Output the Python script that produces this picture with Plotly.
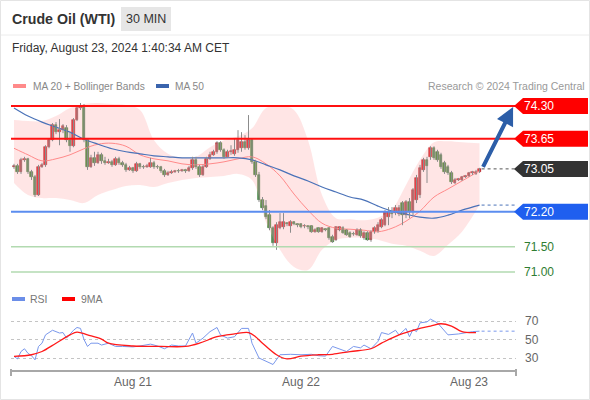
import plotly.graph_objects as go
import pandas as pd

# ---------------- DATA ----------------
start_time = "2024-08-20 07:00"
opens = [73.09, 73.11, 72.99, 73.23, 73.25, 72.99, 72.89, 72.53, 73.09, 73.13,
         73.48, 73.62, 73.92, 73.78, 73.82, 73.86, 73.62, 73.50, 74.02, 74.26,
         74.28, 73.62, 73.09, 73.27, 73.17, 73.33, 73.21, 73.17, 73.19, 73.13,
         73.25, 73.17, 73.13, 73.03, 73.07, 73.01, 73.15, 73.09, 73.08, 73.09,
         73.17, 73.09, 73.09, 73.01, 72.93, 72.97, 72.99, 73.01, 73.00, 73.03,
         73.01, 73.07, 73.23, 73.09, 72.93, 73.09, 73.25, 73.33, 73.39, 73.56,
         73.43, 73.29, 73.39, 73.35, 73.43, 73.47, 73.58, 73.46, 73.62, 73.19,
         72.93, 72.43, 72.31, 72.13, 71.87, 71.58, 71.87, 71.89, 71.97, 71.91,
         71.99, 71.95, 71.95, 71.91, 71.92, 71.91, 71.80, 71.87, 71.80, 71.85,
         71.87, 71.70, 71.64, 71.83, 71.87, 71.83, 71.78, 71.76, 71.74, 71.83,
         71.68, 71.78, 71.64, 71.80, 71.81, 71.89, 71.93, 72.09, 72.17, 72.17,
         72.15, 72.37, 72.13, 72.39, 72.19, 72.43, 72.53, 73.03, 73.23, 73.29,
         73.46, 73.39, 73.33, 73.17, 73.09, 72.97, 72.77, 72.83, 72.83, 72.89,
         72.91, 72.97, 72.95, 72.99]
highs = [73.15, 73.15, 73.27, 73.29, 73.27, 73.03, 72.93, 73.13, 73.17, 73.52,
         73.66, 73.96, 73.98, 74.04, 73.94, 73.92, 73.78, 74.06, 74.30, 74.36,
         74.34, 73.66, 73.33, 73.39, 73.39, 73.37, 73.29, 73.25, 73.23, 73.29,
         73.29, 73.21, 73.17, 73.11, 73.09, 73.19, 73.17, 73.13, 73.15, 73.27,
         73.21, 73.13, 73.11, 73.05, 73.01, 73.03, 73.03, 73.05, 73.05, 73.05,
         73.11, 73.29, 73.29, 73.13, 73.13, 73.29, 73.39, 73.43, 73.60, 73.60,
         73.46, 73.43, 73.52, 73.66, 73.82, 73.78, 73.72, 74.12, 73.66, 73.23,
         72.99, 72.49, 72.43, 72.23, 71.91, 71.99, 72.17, 72.17, 71.99, 72.03,
         72.01, 71.97, 71.97, 71.95, 71.93, 71.93, 71.87, 71.89, 71.89, 71.87,
         71.89, 71.74, 71.91, 71.91, 71.91, 71.85, 71.81, 71.80, 71.87, 71.87,
         71.81, 71.81, 71.83, 71.91, 71.99, 72.07, 72.23, 72.29, 72.29, 72.33,
         72.33, 72.41, 72.43, 72.47, 72.67, 72.93, 73.13, 73.27, 73.29, 73.50,
         73.50, 73.43, 73.37, 73.21, 73.13, 73.01, 72.87, 72.87, 72.91, 72.93,
         72.99, 73.01, 73.03, 73.07]
lows = [73.05, 72.95, 72.95, 73.19, 72.95, 72.83, 72.49, 72.51, 73.07, 73.09,
        73.46, 73.60, 73.74, 73.52, 73.76, 73.58, 73.39, 73.48, 74.00, 74.22,
        73.58, 73.03, 73.07, 73.11, 73.15, 73.15, 73.13, 73.15, 73.09, 73.11,
        73.13, 73.09, 72.99, 73.01, 72.97, 72.99, 73.05, 73.05, 73.07, 73.07,
        73.05, 73.05, 72.97, 72.89, 72.91, 72.95, 72.97, 72.97, 72.99, 72.97,
        72.99, 73.03, 73.05, 72.89, 72.91, 73.07, 73.23, 73.31, 73.35, 73.39,
        73.25, 73.27, 73.33, 73.31, 73.37, 73.39, 73.43, 73.43, 73.15, 72.89,
        72.39, 72.23, 72.05, 71.83, 71.52, 71.44, 71.85, 71.85, 71.91, 71.78,
        71.93, 71.89, 71.87, 71.87, 71.85, 71.78, 71.78, 71.78, 71.78, 71.81,
        71.64, 71.58, 71.62, 71.81, 71.76, 71.72, 71.68, 71.72, 71.72, 71.68,
        71.64, 71.62, 71.60, 71.76, 71.78, 71.87, 71.91, 71.93, 72.07, 72.13,
        72.11, 71.93, 72.07, 72.07, 72.13, 72.37, 72.47, 72.99, 72.77, 73.23,
        73.23, 73.19, 73.05, 72.95, 72.93, 72.75, 72.75, 72.81, 72.81, 72.87,
        72.89, 72.93, 72.93, 72.97]
closes = [73.11, 72.99, 73.23, 73.25, 72.99, 72.89, 72.53, 73.09, 73.13, 73.48,
          73.62, 73.92, 73.78, 73.82, 73.90, 73.62, 73.50, 74.02, 74.26, 74.30,
          73.62, 73.09, 73.27, 73.17, 73.33, 73.21, 73.17, 73.19, 73.13, 73.25,
          73.17, 73.13, 73.03, 73.07, 73.01, 73.15, 73.09, 73.08, 73.11, 73.17,
          73.09, 73.08, 73.01, 72.93, 72.97, 72.99, 73.01, 73.00, 73.03, 73.01,
          73.07, 73.23, 73.09, 72.93, 73.09, 73.25, 73.33, 73.39, 73.56, 73.43,
          73.29, 73.39, 73.40, 73.43, 73.62, 73.58, 73.46, 73.62, 73.19, 72.93,
          72.43, 72.27, 72.09, 71.87, 71.58, 71.93, 71.99, 71.99, 71.95, 71.99,
          71.95, 71.93, 71.89, 71.92, 71.89, 71.80, 71.83, 71.80, 71.87, 71.83,
          71.68, 71.60, 71.89, 71.89, 71.78, 71.74, 71.70, 71.75, 71.83, 71.72,
          71.78, 71.64, 71.80, 71.87, 71.93, 72.03, 72.19, 72.19, 72.15, 72.27,
          72.27, 72.13, 72.39, 72.19, 72.63, 72.87, 73.07, 73.23, 73.11, 73.46,
          73.27, 73.23, 73.09, 72.99, 72.97, 72.79, 72.83, 72.85, 72.89, 72.91,
          72.97, 72.98, 72.99, 73.05]

band_idx = [0, 4, 8, 12, 16, 20, 24, 28, 32, 36, 40, 44, 48, 52, 56, 60, 64,
            68, 72, 76, 80, 84, 88, 92, 96, 100, 104, 108, 112, 116, 120, 124,
            128, 133]
ma20 = [73.46, 73.33, 73.21, 73.25, 73.33, 73.45, 73.54, 73.56, 73.50, 73.33,
        73.25, 73.21, 73.15, 73.13, 73.15, 73.19, 73.25, 73.29, 73.15, 72.91,
        72.55, 72.23, 71.97, 71.87, 71.85, 71.83, 71.80, 71.87, 72.01, 72.21,
        72.49, 72.65, 72.81, 73.01]
bb_upper = [74.02, 74.00, 74.00, 74.10, 74.26, 74.34, 74.36, 74.34, 74.32, 74.22,
            73.62, 73.35, 73.27, 73.29, 73.48, 73.62, 73.70, 73.86, 74.26, 74.32,
            74.22, 73.62, 72.53, 72.07, 72.05, 72.03, 72.08, 72.25, 72.73, 73.23,
            73.58, 73.60, 73.58, 73.56]
bb_lower = [72.77, 72.53, 72.47, 72.47, 72.43, 72.37, 72.53, 72.63, 72.71, 72.73,
            72.69, 72.77, 72.83, 72.87, 72.89, 72.91, 72.95, 72.83, 71.99, 71.44,
            71.10, 71.04, 71.44, 71.64, 71.68, 71.68, 71.64, 71.56, 71.52, 71.42,
            71.32, 71.54, 71.80, 72.33]
ma50 = [74.26, 74.10, 73.98, 73.88, 73.78, 73.64, 73.54, 73.45, 73.39, 73.35,
        73.31, 73.29, 73.27, 73.27, 73.27, 73.27, 73.27, 73.23, 73.13, 73.03,
        72.91, 72.81, 72.69, 72.59, 72.49, 72.43, 72.31, 72.21, 72.15, 72.09,
        72.07, 72.13, 72.23, 72.33]

rsi_idx = [0, 1, 2, 3, 4, 5, 6, 7, 8, 9, 11, 13, 14, 15, 17, 18, 19, 20, 21, 22,
           24, 25, 27, 29, 31, 34, 36, 39, 41, 43, 45, 47, 49, 51, 52, 54, 56, 58,
           59, 61, 63, 65, 67, 68, 70, 72, 74, 76, 79, 82, 85, 87, 89, 91, 93, 95,
           97, 99, 100, 102, 104, 105, 107, 109, 110, 112, 113, 114, 115, 116, 118,
           119, 121, 122, 124, 127, 129, 131, 133]
rsi_vals = [31.8, 29, 37, 40, 35, 32.5, 28, 42.5, 46, 55, 60, 57, 57.5, 51.5, 60,
            63, 62, 50, 42.5, 46, 46, 44, 46, 42.5, 42.5, 42, 43, 45, 43, 40, 44,
            43, 43, 57, 46, 51.5, 58.5, 63, 55, 51.5, 53, 62, 62, 46, 30, 26.5, 23,
            33.5, 34, 33.5, 34, 32.5, 32, 42.5, 40, 37, 42.5, 41, 44, 40, 48, 57.5,
            55.5, 60, 55, 62, 53, 61, 58.5, 68, 69, 72, 68, 64, 55, 56, 57.5, 58.5, 59]
ma9_idx = [0, 5, 8, 12, 16, 18, 21, 25, 27, 34, 42, 49, 53, 58, 63, 67, 69, 71,
           75, 78, 82, 87, 91, 96, 102, 105, 110, 115, 119, 122, 125, 128, 132]
ma9_vals = [31.8, 33.5, 37, 46, 55, 58, 55, 50.5, 46, 43, 42.5, 42.5, 46, 53, 56,
            57.5, 53, 46, 33.5, 29, 32, 33.5, 34, 37, 40, 46, 55, 61, 64.5, 67,
            64.5, 58.5, 57.5]

levels_red = [74.30, 73.65]
level_last = 73.05
level_blue = 72.20
levels_green = [71.50, 71.00]
rsi_levels = [30, 50, 70]
tick_dates = ["2024-08-21", "2024-08-22", "2024-08-23"]
tick_labels = ["Aug 21", "Aug 22", "Aug 23"]

# ---------------- HELPERS ----------------
t0 = pd.Timestamp(start_time)
step = pd.Timedelta(minutes=30)
def t(i):
    return t0 + step * i

times = [t(i) for i in range(len(closes))]
band_t = [t(i) for i in band_idx]
rsi_t = [t(i) for i in rsi_idx]
ma9_t = [t(i) for i in ma9_idx]

W, H = 590, 400
L, R, T, B = 11, 516, 95, 370
def px(x):
    return (x - L) / (R - L)
def py(y):
    return (B - y) / (B - T)

main_dom = [py(285), 1.0]
rsi_dom = [0.0, py(310)]
y_min, y_max = 70.741, 74.519
r_min, r_max = 17.03, 81.89
x_left, x_right = t(-0.857), t(143.43)

def pp(price):
    return main_dom[0] + (price - y_min) / (y_max - y_min) * (main_dom[1] - main_dom[0])

FONT = "Liberation Sans, Arial, sans-serif"
UP, DOWN = "#e8121a", "#2e8a2e"

fig = go.Figure()

# Bollinger band fill
fig.add_trace(go.Scatter(x=band_t, y=bb_upper, mode="lines",
                         line=dict(width=0, shape="spline", color="rgba(0,0,0,0)"),
                         hoverinfo="skip", showlegend=False))
fig.add_trace(go.Scatter(x=band_t, y=bb_lower, mode="lines",
                         line=dict(width=0, shape="spline", color="rgba(0,0,0,0)"),
                         fill="tonexty", fillcolor="rgba(255,170,170,0.3)",
                         hoverinfo="skip", showlegend=False))
fig.add_trace(go.Scatter(x=band_t, y=ma20, mode="lines",
                         line=dict(width=1, shape="spline", color="#ff8a8a"),
                         showlegend=False))
fig.add_trace(go.Scatter(x=band_t, y=ma50, mode="lines",
                         line=dict(width=1.2, shape="spline", color="#4a72b8"),
                         showlegend=False))

# candles: wicks + bodies
wick_x, wick_y = [], []
for ti, lo, hi in zip(times, lows, highs):
    wick_x += [ti, ti, None]
    wick_y += [lo, hi, None]
fig.add_trace(go.Scatter(x=wick_x, y=wick_y, mode="lines",
                         line=dict(color="#8c8c8c", width=1), hoverinfo="skip",
                         showlegend=False))
body_base = [min(o, c) for o, c in zip(opens, closes)]
body_len = [max(abs(c - o), 0.012) for o, c in zip(opens, closes)]
body_col = [UP if c >= o else DOWN for o, c in zip(opens, closes)]
body_edge = ["#9c1015" if c >= o else "#1e6a1e" for o, c in zip(opens, closes)]
fig.add_trace(go.Bar(x=times, y=body_len, base=body_base,
                     width=0.72 * 30 * 60 * 1000,
                     marker=dict(color=body_col, line=dict(color=body_edge, width=0.6)),
                     showlegend=False, hoverinfo="skip"))

# RSI
fig.add_trace(go.Scatter(x=rsi_t, y=rsi_vals, mode="lines", xaxis="x2", yaxis="y2",
                         line=dict(width=1, color="#7a98ec"), showlegend=False))
fig.add_trace(go.Scatter(x=ma9_t, y=ma9_vals, mode="lines", xaxis="x2", yaxis="y2",
                         line=dict(width=1.3, color="#ff1a1a", shape="spline"),
                         showlegend=False))

shapes = []
shapes.append(dict(type="rect", xref="paper", yref="paper", x0=px(0.5), x1=px(589.5),
                   y0=py(399.5), y1=py(0.5), line=dict(color="#e4e4e4", width=1)))
shapes.append(dict(type="line", xref="paper", yref="paper", x0=px(1), x1=px(589),
                   y0=py(35), y1=py(35), line=dict(color="#ececec", width=1)))
shapes.append(dict(type="rect", xref="paper", yref="paper", x0=px(121), x1=px(171),
                   y0=py(31), y1=py(7), fillcolor="#e6e6e6", line=dict(width=0)))
shapes.append(dict(type="rect", xref="paper", yref="paper", x0=px(13), x1=px(26),
                   y0=py(88), y1=py(84), fillcolor="#ff8a8a", line=dict(width=0)))
shapes.append(dict(type="rect", xref="paper", yref="paper", x0=px(156), x1=px(169),
                   y0=py(88), y1=py(84), fillcolor="#3a64ad", line=dict(width=0)))
shapes.append(dict(type="rect", xref="paper", yref="paper", x0=px(12), x1=px(25),
                   y0=py(301), y1=py(297), fillcolor="#6b8ee8", line=dict(width=0)))
shapes.append(dict(type="rect", xref="paper", yref="paper", x0=px(62), x1=px(75),
                   y0=py(301), y1=py(297), fillcolor="#ff0000", line=dict(width=0)))

for lv in levels_red:
    shapes.append(dict(type="line", xref="paper", yref="paper", x0=0, x1=px(515),
                       y0=pp(lv), y1=pp(lv), line=dict(color="#ff1010", width=2)))
shapes.append(dict(type="line", xref="paper", yref="paper", x0=0, x1=px(515),
                   y0=pp(level_blue), y1=pp(level_blue), line=dict(color="#5b8def", width=2)))
for lv in levels_green:
    shapes.append(dict(type="line", xref="paper", yref="paper", x0=0, x1=px(515),
                       y0=pp(lv), y1=pp(lv), line=dict(color="#b2dab0", width=1.5)))

shapes.append(dict(type="line", xref="x", yref="y", x0=t(133.6), x1=x_right,
                   y0=level_last, y1=level_last, line=dict(color="#555555", width=1, dash="dot")))
shapes.append(dict(type="line", xref="x", yref="y", x0=t(133.6), x1=x_right,
                   y0=ma50[-1], y1=ma50[-1], line=dict(color="#4a72b8", width=1, dash="dot")))
shapes.append(dict(type="line", xref="x2", yref="y2", x0=t(133.6), x1=x_right,
                   y0=rsi_vals[-1], y1=rsi_vals[-1], line=dict(color="#7a98ec", width=1, dash="dot")))

def tag(price, color):
    h = 8 / (B - T)
    yc = pp(price)
    x_tip, x_b, x_r = px(514), px(523), px(588)
    path = (f"M {x_tip},{yc} L {x_b},{yc + h} L {x_r},{yc + h} "
            f"L {x_r},{yc - h} L {x_b},{yc - h} Z")
    return dict(type="path", xref="paper", yref="paper", path=path,
                fillcolor=color, line=dict(width=0))

shapes.append(tag(levels_red[0], "#ff0000"))
shapes.append(tag(levels_red[1], "#ff0000"))
shapes.append(tag(level_last, "#333333"))
shapes.append(tag(level_blue, "#1f5fef"))

for xx in (0, 1):
    shapes.append(dict(type="line", xref="paper", yref="paper", x0=xx, x1=xx,
                       y0=py(369), y1=py(376), line=dict(color="#a8a8a8", width=2)))

annotations = []
def txt(x, y, s, size, color, anchor="left", bold=False):
    annotations.append(dict(xref="paper", yref="paper", x=px(x), y=py(y),
                            text=f"<b>{s}</b>" if bold else s, showarrow=False,
                            xanchor=anchor, yanchor="middle",
                            font=dict(family=FONT, size=size, color=color)))

txt(10, 19, "Crude Oil (WTI)", 14.2, "#333333", bold=True)
txt(146, 19, "30 MIN", 12.5, "#333333", anchor="center")
txt(10, 48, "Friday, August 23, 2024 1:40:34 AM CET", 12, "#333333")
txt(31, 86, "MA 20 + Bollinger Bands", 10.2, "#888888")
txt(173, 86, "MA 50", 10.2, "#888888")
txt(587, 86, "Research © 2024 Trading Central", 10.5, "#999999", anchor="right")
txt(28, 299, "RSI", 10.5, "#777777")
txt(79, 299, "9MA", 10.5, "#777777")

def price_label(price, color):
    annotations.append(dict(xref="paper", yref="paper", x=px(539), y=pp(price),
                            text=f"{price:.2f}", showarrow=False, xanchor="center",
                            yanchor="middle", font=dict(family=FONT, size=12, color=color)))

price_label(levels_red[0], "white")
price_label(levels_red[1], "white")
price_label(level_last, "white")
price_label(level_blue, "white")
for lv in levels_green:
    price_label(lv, "#2f7d32")

annotations.append(dict(xref="x", yref="y", axref="x", ayref="y",
                        x=t(142.6), y=74.28, ax=t(133.8), ay=73.06, text="",
                        showarrow=True, arrowhead=2, arrowsize=0.9, arrowwidth=4,
                        arrowcolor="#2c5ea8"))

fig.update_layout(
    width=W, height=H,
    margin=dict(l=L, r=W - R, t=T, b=H - B),
    paper_bgcolor="white", plot_bgcolor="white",
    showlegend=False, bargap=0,
    font=dict(family=FONT),
    xaxis=dict(domain=[0, 1], range=[x_left, x_right], anchor="y", visible=False,
               type="date"),
    yaxis=dict(domain=main_dom, range=[y_min, y_max], visible=False),
    xaxis2=dict(domain=[0, 1], range=[x_left, x_right], anchor="y2", type="date",
                showline=True, linecolor="#a8a8a8", linewidth=2, showgrid=False,
                tickvals=tick_dates, ticktext=tick_labels, ticks="",
                tickfont=dict(family=FONT, size=12, color="#666666")),
    yaxis2=dict(domain=rsi_dom, range=[r_min, r_max], anchor="x2", side="right",
                tickvals=rsi_levels, showgrid=True, gridcolor="#c4c4c4", griddash="dot",
                zeroline=False, showline=False, ticks="", ticklabelstandoff=8,
                tickfont=dict(family=FONT, size=12, color="#666666")),
    shapes=shapes, annotations=annotations,
)

fig.write_html("out.html", config={"displayModeBar": False},
               post_script="document.body.style.margin='0px';")
